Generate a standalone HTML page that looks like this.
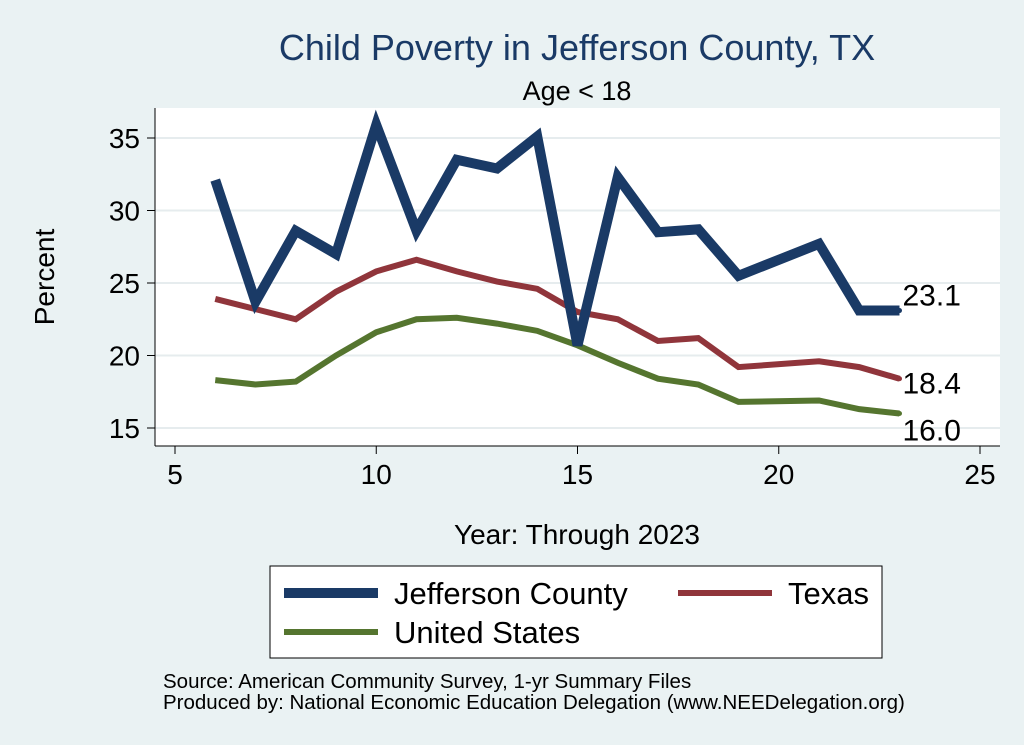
<!DOCTYPE html>
<html><head><meta charset="utf-8"><style>
body{margin:0;background:#eaf2f3;}
svg{display:block;font-family:"Liberation Sans",Arial,sans-serif;}
</style></head><body>
<svg id="chart" width="1024" height="745">
<rect x="0" y="0" width="1024" height="745" fill="#eaf2f3"/>
<rect x="155" y="108" width="845" height="338" fill="#ffffff"/>
<text x="577" y="60" font-size="36" fill="#1a3a66" text-anchor="middle">Child Poverty in Jefferson County, TX</text>
<text x="577" y="100" font-size="27" fill="#000" text-anchor="middle">Age &lt; 18</text>
<g id="grid"></g>
<g id="axes"></g>
<g id="series"></g>
<text x="54" y="277" font-size="28" text-anchor="middle" transform="rotate(-90 54 277)">Percent</text>
<text x="577" y="544" font-size="28" text-anchor="middle">Year: Through 2023</text>
<g>
<rect x="270" y="566" width="612" height="92" fill="#fff" stroke="#000" stroke-width="1"/>
<g><line x1="284" y1="593" x2="378" y2="593" stroke="#1a3a66" stroke-width="10"/><text x="394" y="604" font-size="31">Jefferson County</text></g>
<g><line x1="678" y1="593" x2="772" y2="593" stroke="#90353b" stroke-width="6"/><text x="788" y="604" font-size="31">Texas</text></g>
<g><line x1="284" y1="632" x2="378" y2="632" stroke="#55752f" stroke-width="6"/><text x="394" y="643" font-size="31">United States</text></g>
</g>
<text x="163" y="688" font-size="20.5">Source: American Community Survey, 1-yr Summary Files</text>
<text x="163" y="709" font-size="20.5">Produced by: National Economic Education Delegation (www.NEEDelegation.org)</text>
</svg>
<script>
const years=[6,7,8,9,10,11,12,13,14,15,16,17,18,19,21,22,23];
const jefferson=[32.1,23.7,28.6,27.0,35.9,28.6,33.5,32.9,35.1,20.7,32.3,28.5,28.7,25.5,27.7,23.1,23.1];
const texas=[23.9,23.2,22.5,24.4,25.8,26.6,25.8,25.1,24.6,23.0,22.5,21.0,21.2,19.2,19.6,19.2,18.4];
const us=[18.3,18.0,18.2,20.0,21.6,22.5,22.6,22.2,21.7,20.7,19.5,18.4,18.0,16.8,16.9,16.3,16.0];
const xTicks=[5,10,15,20,25];
const yTicks=[15,20,25,30,35];
const NS="http://www.w3.org/2000/svg";
const X=v=>175+(v-5)*40.25;
const Y=v=>428-(v-15)*14.5;
function mk(t,a,p){const e=document.createElementNS(NS,t);for(const k in a)e.setAttribute(k,a[k]);p.appendChild(e);return e;}
const grid=document.getElementById('grid'),axes=document.getElementById('axes'),ser=document.getElementById('series');
mk('line',{x1:155,y1:108,x2:155,y2:446,stroke:'#000','stroke-width':1},axes);
mk('line',{x1:155,y1:446,x2:1000,y2:446,stroke:'#000','stroke-width':1},axes);
yTicks.forEach(v=>{
 const g=mk('line',{x1:155,y1:Y(v),x2:1000,y2:Y(v),stroke:'#e6ecee','stroke-width':2},grid);
 
 
 mk('line',{x1:147,y1:Y(v),x2:155,y2:Y(v),stroke:'#000'},axes);
 const t=mk('text',{x:140,y:Y(v)+10,'font-size':28,'text-anchor':'end'},axes);t.textContent=v;
 
 
});
xTicks.forEach(v=>{
 mk('line',{x1:X(v),y1:446,x2:X(v),y2:454,stroke:'#000'},axes);
 const t=mk('text',{x:X(v),y:484,'font-size':28,'text-anchor':'middle'},axes);t.textContent=v;
 
 
});
function line(vals,color,w,name,dy){
 const p=mk('polyline',{points:vals.map((v,i)=>X(years[i])+','+Y(v)).join(' '),fill:'none',stroke:color,'stroke-width':w,'stroke-linejoin':'miter'},ser);
 
 
 const n=vals.length-1;
 mk('circle',{cx:X(years[n]),cy:Y(vals[n]),r:2.5,fill:color},ser);
 const t=mk('text',{x:X(years[n])+3,y:Y(vals[n])+dy,'font-size':30},ser);
 t.textContent=vals[n].toFixed(1);
 
 
}
line(us,'#55752f',6,'us-line',27);
line(texas,'#90353b',6,'texas-line',15);
line(jefferson,'#1a3a66',10,'jefferson-line',-5);
</script>
</body></html>
